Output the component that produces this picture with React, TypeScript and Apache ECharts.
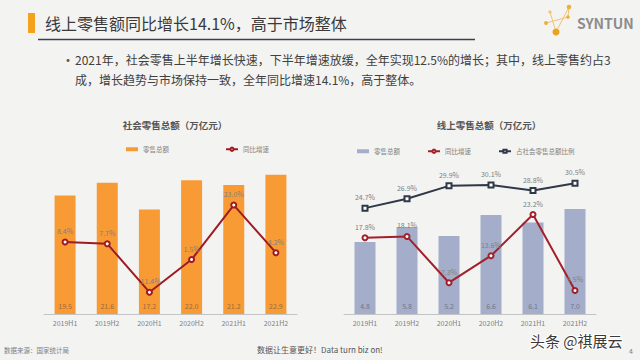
import React, { useEffect, useRef } from "react";
import * as echarts from "echarts";

const categories = ["2019H1", "2019H2", "2020H1", "2020H2", "2021H1", "2021H2"];
const totalRetail = [19.5, 21.6, 17.2, 22.0, 21.2, 22.9];
const totalGrowth = [8.4, 7.7, -11.4, 1.5, 23.0, 4.2];
const onlineRetail = [4.8, 5.8, 5.2, 6.6, 6.1, 7.0];
const onlineGrowth = [17.8, 18.1, 7.3, 13.6, 23.2, 5.5];
const onlineShare = [24.7, 26.9, 29.9, 30.1, 28.8, 30.5];

const FONT = '"Noto Sans CJK SC", "Noto Sans", sans-serif';

function txt(text: string, x: number, y: number, size: number, fill: string, align = "left", weight = "normal", extra: any = {}) {
  return {
    type: "text",
    x,
    y,
    style: {
      text,
      fill,
      font: `${weight} ${size}px ${FONT}`,
      align,
      textAlign: align,
      verticalAlign: "middle",
      textVerticalAlign: "middle",
      ...extra,
    },
  };
}

export default function App() {
  const ref = useRef<HTMLDivElement>(null);
  useEffect(() => {
    if (!ref.current) return;
    const chart = echarts.init(ref.current, null, { renderer: "svg" });
    const axisLabel = { fontSize: 7, color: "#7f7f7f", margin: 5, fontFamily: FONT };
    const lineLabel = {
      show: true,
      position: "top",
      distance: 4,
      fontSize: 7,
      color: "#808080",
      fontFamily: FONT,
      formatter: (p: any) => p.value.toFixed(1) + "%",
    };
    const legendText = { fontSize: 6.5, color: "#808080", fontFamily: FONT };
    chart.setOption({
      animation: false,
      backgroundColor: "#F3F3F2",
      textStyle: { fontFamily: FONT },
      legend: [
        {
          data: [{ name: "零售总额", icon: "rect" }, "同比增速"],
          left: 121,
          top: 141,
          itemGap: 56,
          itemWidth: 12,
          itemHeight: 4,
          textStyle: legendText,
          formatter: (n: string) => n.trim(),
        },
        {
          data: [{ name: "零售总额 ", icon: "rect" }, "同比增速 ", "占社会零售总额比例"],
          left: 352,
          top: 143,
          itemGap: 27,
          itemWidth: 12,
          itemHeight: 4,
          textStyle: legendText,
          formatter: (n: string) => n.trim(),
        },
      ],
      grid: [
        { left: 44, top: 162, width: 253, height: 152 },
        { left: 344, top: 164, width: 252, height: 150 },
      ],
      xAxis: [0, 1].map((g) => ({
        gridIndex: g,
        type: "category",
        data: categories,
        axisLine: { lineStyle: { color: "#c4c4c4", width: 1 } },
        axisTick: { show: false },
        axisLabel,
      })),
      yAxis: [
        { gridIndex: 0, type: "value", min: 0, max: 25, show: false },
        { gridIndex: 0, type: "value", min: -20, max: 40, show: false },
        { gridIndex: 1, type: "value", min: 0, max: 10, show: false },
        { gridIndex: 1, type: "value", min: 0, max: 35, show: false },
      ],
      series: [
        {
          name: "零售总额",
          type: "bar",
          xAxisIndex: 0,
          yAxisIndex: 0,
          data: totalRetail,
          barWidth: 21,
          itemStyle: { color: "#F89B35" },
          label: {
            show: true,
            position: "insideBottom",
            distance: 5,
            fontSize: 7,
            color: "#9a6a3e",
            formatter: (p: any) => p.value.toFixed(1),
          },
        },
        {
          name: "同比增速",
          type: "line",
          xAxisIndex: 0,
          yAxisIndex: 1,
          data: totalGrowth,
          symbol: "emptyCircle",
          symbolSize: 5,
          lineStyle: { color: "#9E1B22", width: 2 },
          itemStyle: { color: "#9E1B22" },
          label: lineLabel,
          z: 5,
        },
        {
          name: "零售总额 ",
          type: "bar",
          xAxisIndex: 1,
          yAxisIndex: 2,
          data: onlineRetail,
          barWidth: 21,
          itemStyle: { color: "#A4AECA" },
          label: {
            show: true,
            position: "insideBottom",
            distance: 5,
            fontSize: 7,
            color: "#6e7690",
            formatter: (p: any) => p.value.toFixed(1),
          },
        },
        {
          name: "同比增速 ",
          type: "line",
          xAxisIndex: 1,
          yAxisIndex: 3,
          data: onlineGrowth,
          symbol: "emptyCircle",
          symbolSize: 5,
          lineStyle: { color: "#A3202A", width: 2 },
          itemStyle: { color: "#A3202A" },
          label: lineLabel,
          z: 5,
        },
        {
          name: "占社会零售总额比例",
          type: "line",
          xAxisIndex: 1,
          yAxisIndex: 3,
          data: onlineShare,
          symbol: "emptyRect",
          symbolSize: 5,
          lineStyle: { color: "#2F3847", width: 2 },
          itemStyle: { color: "#2F3847" },
          label: lineLabel,
          z: 5,
        },
      ],
      graphic: [
        { type: "rect", shape: { x: 28, y: 13, width: 7, height: 20 }, style: { fill: "#F4A21C" } },
        txt("线上零售额同比增长14.1%，高于市场整体", 45, 23, 16, "#3a3a3a"),
        { type: "line", shape: { x1: 38, y1: 39.5, x2: 475, y2: 39.5 }, style: { stroke: "#3c4049", lineWidth: 1.5 } },
        // logo
        { type: "polyline", shape: { points: [[550, 12], [556, 32], [569, 7]] }, style: { stroke: "#F3C46E", lineWidth: 1, fill: null } },
        { type: "line", shape: { x1: 546, y1: 23, x2: 568, y2: 17 }, style: { stroke: "#F3C46E", lineWidth: 1 } },
        { type: "line", shape: { x1: 569, y1: 7, x2: 568, y2: 17 }, style: { stroke: "#F3C46E", lineWidth: 1 } },
        { type: "circle", shape: { cx: 556, cy: 32, r: 3.5 }, style: { fill: "#E9A21A" } },
        { type: "circle", shape: { cx: 546, cy: 23, r: 2 }, style: { fill: "#EDB03C" } },
        { type: "circle", shape: { cx: 569, cy: 7, r: 2.3 }, style: { fill: "#EDB03C" } },
        { type: "circle", shape: { cx: 568, cy: 17, r: 1.8 }, style: { fill: "#EDB03C" } },
        { type: "circle", shape: { cx: 550, cy: 12, r: 1.6 }, style: { fill: "#F3C46E" } },
        txt("SYNTUN", 577, 23, 14, "#8c8c8c", "left", "bold"),
        // bullet text
        txt("•", 61, 59, 14, "#595959"),
        txt("2021年，社会零售上半年增长快速，下半年增速放缓，全年实现12.5%的增长；其中，线上零售约占3", 75, 59, 12, "#404040"),
        txt("成，增长趋势与市场保持一致，全年同比增速14.1%，高于整体。", 75, 79, 12, "#404040"),
        // chart titles
        txt("社会零售总额（万亿元）", 175, 125, 9.5, "#555555", "center", "bold"),
        txt("线上零售总额（万亿元）", 489, 125, 9.5, "#555555", "center", "bold"),
        // footer
        txt("数据来源：国家统计局", 4, 350, 6.5, "#7f7f7f"),
        txt("数据让生意更好！Data turn biz on!", 257, 349, 8, "#555555"),
        txt("头条 @祺展云", 530, 340, 15, "#3a3a3a", "left", "normal", { stroke: "#ffffff", lineWidth: 2 }),
        txt("4", 629, 351, 7, "#808080"),
      ],
    });
    return () => chart.dispose();
  }, []);
  return (
    <div
      ref={ref}
      style={{ position: "fixed", left: 0, top: 0, width: 640, height: 360 }}
    />
  );
}
